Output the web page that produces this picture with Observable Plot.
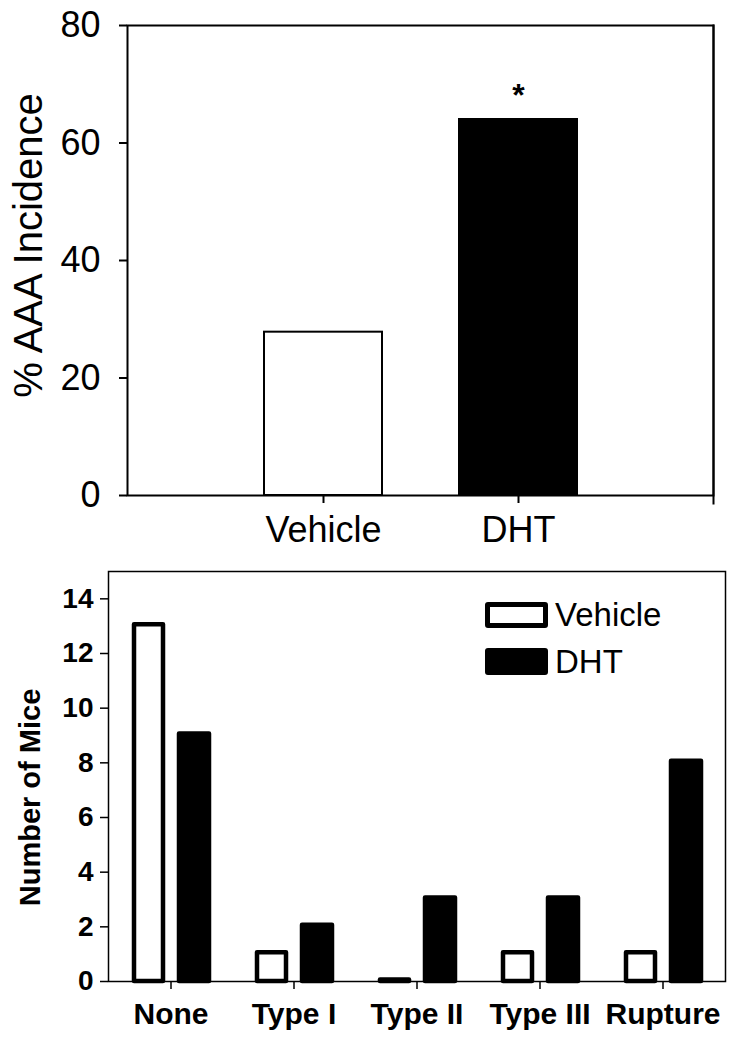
<!DOCTYPE html>
<html>
<head>
<meta charset="utf-8">
<script src="https://cdn.jsdelivr.net/npm/d3@7"></script>
<script src="https://cdn.jsdelivr.net/npm/@observablehq/plot@0.6"></script>
<style>
  body { margin: 0; background: #fff; font-family: "Liberation Sans", Arial, sans-serif; }
  #wrap { position: relative; width: 739px; height: 1050px; }
  #wrap svg { display: block; }
  .leg { position: absolute; left: 485px; display: flex; align-items: center; }
  .leg .sw { box-sizing: border-box; width: 63px; border: 5px solid #000; border-radius: 3px; }
  .leg .lb { margin-left: 7px; font-size: 33px; line-height: 1; color: #000; }
</style>
</head>
<body>
<div id="wrap"></div>
<script>
// ---- data ----
const groups = ["Vehicle", "DHT"];
const incidence = [27.8, 64];
const significance = ["", "*"];

const categories = ["None", "Type I", "Type II", "Type III", "Rupture"];
const vehicleMice = [13, 1, 0, 1, 1];
const dhtMice = [9, 2, 3, 3, 8];
const seriesNames = ["Vehicle", "DHT"];

const topTicks = [0, 20, 40, 60, 80];
const bottomTicks = [0, 2, 4, 6, 8, 10, 12, 14];
const topLabel = "% AAA Incidence";
const bottomLabel = "Number of Mice";

// ---- build ----
const FONT = '"Liberation Sans", Arial, sans-serif';
const topData = groups.map((g, i) => ({group: g, pct: incidence[i], sig: significance[i]}));
const vehicleData = categories.map((c, i) => ({cat: c, n: vehicleMice[i]}));
const dhtData = categories.map((c, i) => ({cat: c, n: dhtMice[i]}));

const topChart = Plot.plot({
  width: 739, height: 550,
  marginTop: 25, marginRight: 26, marginBottom: 55, marginLeft: 127,
  style: {fontFamily: FONT, color: "black", background: "white"},
  x: {type: "band", domain: groups, paddingInner: 0.396, paddingOuter: 0.698},
  y: {domain: [0, 80]},
  marks: [
    Plot.barY(topData, {x: "group", y: "pct", fill: d => d.group === "Vehicle" ? "white" : "black", stroke: "black", strokeWidth: 2}),
    Plot.text(topData.filter(d => d.sig), {x: "group", y: "pct", text: "sig", fontSize: 32, fontWeight: "bold", dy: -24}),
    Plot.frame({stroke: "black", strokeWidth: 2}),
    Plot.frame({anchor: "right", insetBottom: -8, stroke: "black", strokeWidth: 2}),
    Plot.axisY(topTicks, {tickSize: 8, tickPadding: 19, fontSize: 36, strokeWidth: 2, label: null}),
    Plot.axisX({tickSize: 8, tickPadding: 13, fontSize: 36, strokeWidth: 2, label: null}),
    Plot.text([topLabel], {frameAnchor: "left", textAnchor: "middle", rotate: -90, fontSize: 40, dx: -98, dy: -15})
  ]
});

const bottomChart = Plot.plot({
  width: 739, height: 500,
  marginTop: 21, marginRight: 14, marginBottom: 69, marginLeft: 108,
  style: {fontFamily: FONT, color: "black", background: "white"},
  x: {type: "band", domain: categories, padding: 0},
  y: {domain: [0, 15]},
  marks: [
    Plot.barY(vehicleData, {x: "cat", y: "n", fill: "white", stroke: "black", strokeWidth: 4.5, strokeLinejoin: "round", insetLeft: 25, insetRight: 69, insetTop: -1.5}),
    Plot.barY(dhtData, {x: "cat", y: "n", fill: "black", stroke: "black", strokeWidth: 4.5, strokeLinejoin: "round", insetLeft: 70, insetRight: 23, insetTop: -1.5}),
    Plot.frame({stroke: "black", strokeWidth: 1.5}),
    Plot.axisY(bottomTicks, {tickSize: 8, tickPadding: 7, fontSize: 28, fontWeight: "bold", strokeWidth: 1.5, label: null}),
    Plot.axisX({tickSize: 8, tickPadding: 13, fontSize: 30, fontWeight: "bold", strokeWidth: 1.5, label: null}),
    Plot.text([bottomLabel], {frameAnchor: "left", textAnchor: "middle", rotate: -90, fontSize: 29, fontWeight: "bold", dx: -78, dy: 21})
  ]
});

const wrap = document.getElementById("wrap");
wrap.appendChild(topChart);
wrap.appendChild(bottomChart);

// legend (inside the lower chart, upper right)
const legendRows = [
  {top: 598, h: 26, fill: "white"},
  {top: 645, h: 27, fill: "black"}
];
seriesNames.forEach((name, i) => {
  const row = document.createElement("div");
  row.className = "leg";
  row.style.top = legendRows[i].top + "px";
  const sw = document.createElement("span");
  sw.className = "sw";
  sw.style.height = legendRows[i].h + "px";
  sw.style.background = legendRows[i].fill;
  const lb = document.createElement("span");
  lb.className = "lb";
  lb.textContent = name;
  row.appendChild(sw);
  row.appendChild(lb);
  wrap.appendChild(row);
});
</script>
</body>
</html>
